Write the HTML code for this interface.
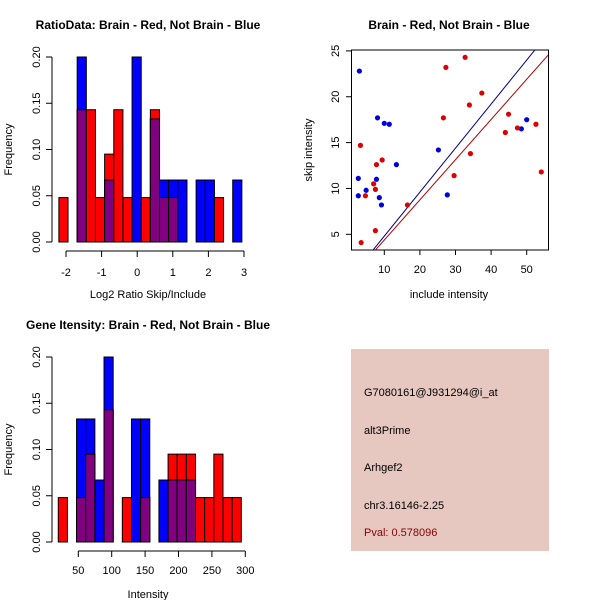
<!DOCTYPE html>
<html><head><meta charset="utf-8"><style>
body{margin:0;background:#fff}
svg{display:block;font-family:"Liberation Sans",sans-serif}
</style></head><body>
<svg id="c" width="600" height="600" xmlns="http://www.w3.org/2000/svg">
<rect x="351" y="349" width="198" height="202" fill="#e6c8c1"/>
<g font-size="11" fill="#000">
<text x="364" y="396">G7080161@J931294@i_at</text>
<text x="364" y="434">alt3Prime</text>
<text x="364" y="471">Arhgef2</text>
<text x="364" y="509">chr3.16146-2.25</text>
<text x="364" y="536" fill="#8b0000">Pval: 0.578096</text>
</g>
</svg>
<script>
const ratioRed=[0.048,0,0.143,0.143,0.048,0.095,0.143,0.048,0,0.048,0.143,0.048,0.048,0,0,0,0,0.048,0,0];
const ratioBlue=[0,0,0.2,0,0,0.067,0,0,0.2,0,0.133,0.067,0.067,0.067,0,0.067,0.067,0,0,0.067];
const ratioStart=-2.2, ratioWidth=0.257;
const ratioTicks=[-2,-1,0,1,2,3];
const intRed=[0.048,0,0.048,0.095,0,0.143,0,0.048,0,0.048,0,0,0.095,0.095,0.095,0.048,0.048,0.095,0.048,0.048];
const intBlue=[0,0,0.133,0.133,0.067,0.2,0,0,0.133,0.133,0,0.067,0.067,0.067,0.067,0,0,0,0,0];
const intStart=20, intWidth=13.7;
const intTicks=[50,100,150,200,250,300];
const freqTicks=[0,0.05,0.10,0.15,0.20];
const blueX=[3.0,2.7,2.7,4.9,8.1,10,11.4,7.8,8.6,9.2,13.4,25.2,27.7,48.5,50];
const blueY=[22.8,11.1,9.2,9.8,17.7,17.1,17.0,11.0,9.0,8.2,12.6,14.2,9.3,16.5,17.5];
const redX=[3.3,3.5,4.7,7.0,7.5,7.8,7.5,9.4,16.5,27.3,32.7,26.6,29.6,33.9,34.2,37.4,44,44.9,47.4,52.6,54.1];
const redY=[14.7,4.1,9.2,10.5,9.9,12.6,5.4,13.1,8.2,23.2,24.3,17.7,11.4,19.1,13.8,20.4,16.1,18.1,16.6,17.0,11.8];
const blueSlope=0.48, redSlope=0.438;
const scXTicks=[10,20,30,40,50], scYTicks=[5,10,15,20,25];

const svg=document.getElementById('c');
const NS='http://www.w3.org/2000/svg';
function mk(tag,at,txt){const e=document.createElementNS(NS,tag);for(const k in at)e.setAttribute(k,at[k]);if(txt!==undefined)e.textContent=txt;svg.appendChild(e);return e;}

function hist(red,blue,start,w,xs,ys,xticks,title,xlab,axisY,tickLblY,xlabY,titleY,fmt,pre){
  for(let i=0;i<red.length;i++){
    const x0=xs(start+i*w),x1=xs(start+(i+1)*w);
    const r=red[i],b=blue[i],m=Math.min(r,b);
    if(r>0){const e=mk('rect',{x:x0,y:ys(r),width:x1-x0,height:ys(0)-ys(r),fill:'#ff0000',stroke:'#000','stroke-width':1});
      }
    if(b>0){const e=mk('rect',{x:x0,y:ys(b),width:x1-x0,height:ys(0)-ys(b),fill:'#0000ff',stroke:'#000','stroke-width':1});
      }
    if(m>0){const e=mk('rect',{x:x0,y:ys(m),width:x1-x0,height:ys(0)-ys(m),fill:'#800080',stroke:'#000','stroke-width':1});
      }
  }
  let a=mk('line',{x1:52,x2:52,y1:ys(0),y2:ys(0.2),stroke:'#000'});
  
  freqTicks.forEach(t=>{mk('line',{x1:46,x2:52,y1:ys(t),y2:ys(t),stroke:'#000'});
    const l=mk('text',{x:40,y:ys(t),'font-size':11,'text-anchor':'middle',transform:`rotate(-90 40 ${ys(t)})`},t.toFixed(2));
    });
  a=mk('line',{x1:xs(xticks[0]),x2:xs(xticks[xticks.length-1]),y1:axisY,y2:axisY,stroke:'#000'});
  
  xticks.forEach(t=>{mk('line',{x1:xs(t),x2:xs(t),y1:axisY,y2:axisY+6,stroke:'#000'});
    const l=mk('text',{x:xs(t),y:tickLblY,'font-size':11,'text-anchor':'middle'},fmt(t));
    });
  let t=mk('text',{x:148,y:xlabY,'font-size':11,'text-anchor':'middle'},xlab);
  
  const cy=(ys(0)+ys(0.2))/2;
  t=mk('text',{x:12,y:cy,'font-size':11,'text-anchor':'middle',transform:`rotate(-90 12 ${cy})`},'Frequency');
  
  t=mk('text',{x:148,y:titleY,'font-size':12,'font-weight':'bold','text-anchor':'middle'},title);
  
}
const rxs=v=>66+(v+2)*35.6, rys=v=>242-v*925;
hist(ratioRed,ratioBlue,ratioStart,ratioWidth,rxs,rys,ratioTicks,'RatioData: Brain - Red, Not Brain - Blue','Log2 Ratio Skip/Include',251,276,298,29,v=>String(v),'ratio');
const ixs=v=>78.3+(v-50)*0.668, iys=v=>542-v*925;
hist(intRed,intBlue,intStart,intWidth,ixs,iys,intTicks,'Gene Itensity: Brain - Red, Not Brain - Blue','Intensity',551,574,598,329,v=>String(v),'intensity');

const sx=v=>384.3+(v-10)*3.56, sy=v=>234.3-(v-5)*9.17;
let b=mk('rect',{x:351.5,y:50,width:197,height:200,fill:'none',stroke:'#000'});

const cp=document.createElementNS(NS,'clipPath');cp.setAttribute('id','clp');svg.appendChild(cp);
const cr=document.createElementNS(NS,'rect');
cr.setAttribute('x',352);cr.setAttribute('y',50);cr.setAttribute('width',196);cr.setAttribute('height',200);cp.appendChild(cr);
[[blueSlope,'#00008b','blue-fit-line'],[redSlope,'#b00000','red-fit-line']].forEach(([s,c,n])=>{
  const e=mk('line',{x1:sx(0),y1:sy(0),x2:sx(60),y2:sy(60*s),stroke:c,'stroke-width':1,'clip-path':'url(#clp)'});
  });
blueX.forEach((x,i)=>{const e=mk('circle',{cx:sx(x),cy:sy(blueY[i]),r:2.6,fill:'#0000dd'});
  });
redX.forEach((x,i)=>{const e=mk('circle',{cx:sx(x),cy:sy(redY[i]),r:2.6,fill:'#dd0000'});
  });
scXTicks.forEach(t=>{mk('line',{x1:sx(t),x2:sx(t),y1:250,y2:255,stroke:'#000'});
  const l=mk('text',{x:sx(t),y:273,'font-size':11,'text-anchor':'middle'},String(t));
  });
scYTicks.forEach(t=>{mk('line',{x1:346,x2:351.5,y1:sy(t),y2:sy(t),stroke:'#000'});
  const l=mk('text',{x:339,y:sy(t),'font-size':11,'text-anchor':'middle',transform:`rotate(-90 339 ${sy(t)})`},String(t));
  });
let t=mk('text',{x:449,y:298,'font-size':11,'text-anchor':'middle'},'include intensity');

t=mk('text',{x:312,y:150,'font-size':11,'text-anchor':'middle',transform:'rotate(-90 312 150)'},'skip intensity');

t=mk('text',{x:449,y:29,'font-size':12,'font-weight':'bold','text-anchor':'middle'},'Brain - Red, Not Brain - Blue');

</script>
</body></html>
